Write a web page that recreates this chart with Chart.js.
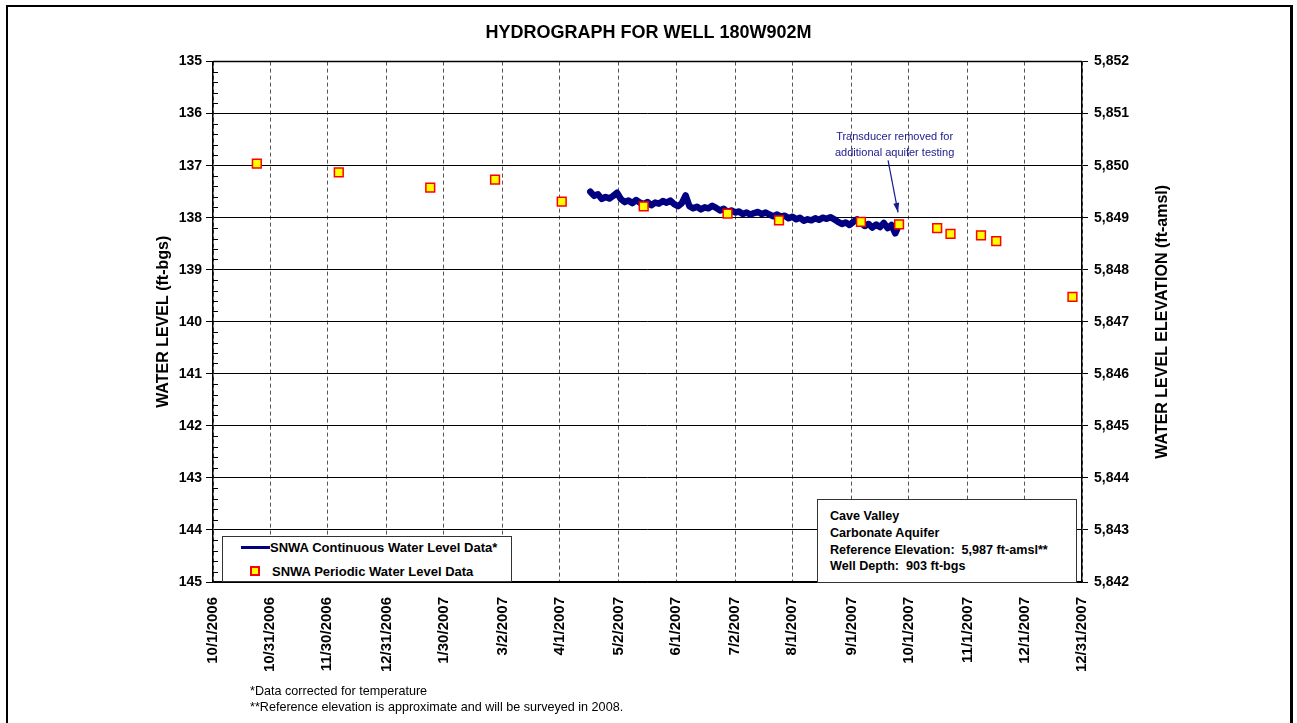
<!DOCTYPE html>
<html>
<head>
<meta charset="utf-8">
<script src="https://cdn.jsdelivr.net/npm/chart.js@4/dist/chart.umd.min.js"></script>
<style>
  html, body { margin: 0; padding: 0; background: #fff; overflow: hidden; }
  body { width: 1297px; height: 723px; position: relative; font-family: "Liberation Sans", Arial, sans-serif; }
  #wrap { position: absolute; left: 0; top: 0; width: 1297px; height: 723px; }
  #chart { display: block; }
  .frame { position: absolute; left: 6px; top: 5px; width: 1282px; height: 730px;
           border-left: 2px solid #000; border-top: 2px solid #000; border-right: 3px solid #000; }
  .box { position: absolute; background: #fff; border: 1px solid #333; font-weight: bold; color: #000; }
  #legend { left: 222px; top: 536px; width: 288px; height: 44px; font-size: 13px; }
  #legend .row { position: absolute; left: 0; white-space: nowrap; line-height: 16px; }
  #legend .swatch-line { position: absolute; width: 29px; height: 3px; background: #000080; }
  #legend .swatch-pt { position: absolute; box-sizing: border-box; width: 10px; height: 10px; background: #ffff00; border: 2px solid #ff0000; }
  #info { left: 817px; top: 499px; width: 258px; height: 82px; font-size: 12.6px; }
  #info div { position: absolute; left: 12px; white-space: nowrap; line-height: 16px; }
  .note { position: absolute; font-size: 12.6px; color: #000; white-space: nowrap; line-height: 15px; }
  .callout { position: absolute; font-size: 11px; color: #1a1a8c; text-align: center; line-height: 16px; white-space: nowrap; }
</style>
</head>
<body>
<div id="wrap"><canvas id="chart" width="1297" height="723"></canvas></div>
<div class="frame"></div>

<div id="legend" class="box">
  <span class="swatch-line" style="left:18px; top:9px;"></span>
  <div class="row" style="left:47px; top:3px;">SNWA Continuous Water Level Data*</div>
  <span class="swatch-pt" style="left:27px; top:29px;"></span>
  <div class="row" style="left:49px; top:27px;">SNWA Periodic Water Level Data</div>
</div>

<div id="info" class="box">
  <div style="top:8px;">Cave Valley</div>
  <div style="top:25px;">Carbonate Aquifer</div>
  <div style="top:42px;">Reference Elevation:&nbsp; 5,987 ft-amsl**</div>
  <div style="top:58px;">Well Depth:&nbsp; 903 ft-bgs</div>
</div>

<div class="callout" style="left:835px; top:128px;">Transducer removed for<br>additional aquifer testing</div>

<div class="note" style="left:250px; top:684px;">*Data corrected for temperature</div>
<div class="note" style="left:250px; top:700px;">**Reference elevation is approximate and will be surveyed in 2008.</div>

<script>
// x values are days after 10/1/2006
const tickDays = [0, 30, 60, 91, 121, 152, 182, 213, 243, 274, 304, 335, 365, 396, 426, 456];
const tickLabels = ['10/1/2006', '10/31/2006', '11/30/2006', '12/31/2006', '1/30/2007', '3/2/2007',
    '4/1/2007', '5/2/2007', '6/1/2007', '7/2/2007', '8/1/2007', '9/1/2007', '10/1/2007',
    '11/1/2007', '12/1/2007', '12/31/2007'];

// periodic (manual) measurements, ft below ground surface
const periodicDays = [23, 66, 114, 148, 183, 226, 270, 297, 340, 360, 380, 387, 403, 411, 451];
const periodicLevels = [136.96, 137.13, 137.42, 137.27, 137.69, 137.78, 137.92, 138.05, 138.08,
    138.13, 138.20, 138.31, 138.34, 138.45, 139.52];

// continuous transducer record
const contDays = [198, 200, 202, 204, 206, 208, 210, 212, 214, 216, 218, 220, 222, 224, 226, 228,
    230, 232, 234, 236, 238, 240, 242, 244, 246, 248, 250, 252, 254, 256, 258, 260, 262, 264, 266,
    268, 270, 272, 274, 276, 278, 280, 282, 284, 286, 288, 290, 292, 294, 296, 298, 300, 302, 304,
    306, 308, 310, 312, 314, 316, 318, 320, 322, 324, 326, 328, 330, 332, 334, 336, 338, 340, 342,
    344, 346, 348, 350, 352, 354, 356, 358, 359];
const contLevels = [137.50, 137.58, 137.55, 137.64, 137.60, 137.63, 137.58, 137.52, 137.64, 137.70,
    137.67, 137.72, 137.66, 137.71, 137.74, 137.70, 137.76, 137.71, 137.73, 137.68, 137.71, 137.67,
    137.74, 137.78, 137.72, 137.57, 137.78, 137.82, 137.79, 137.84, 137.80, 137.82, 137.77, 137.81,
    137.86, 137.83, 137.89, 137.86, 137.90, 137.88, 137.93, 137.90, 137.94, 137.91, 137.89, 137.93,
    137.90, 137.94, 137.97, 137.94, 137.98, 137.96, 138.01, 137.98, 138.03, 138.00, 138.06, 138.03,
    138.05, 138.01, 138.04, 138.00, 138.02, 137.99, 138.03, 138.08, 138.12, 138.09, 138.14, 138.08,
    138.03, 138.10, 138.16, 138.12, 138.19, 138.13, 138.18, 138.10, 138.20, 138.14, 138.30, 138.22];

const LAND_SURFACE = 5987; // ft-amsl, elevation = LAND_SURFACE - depth

Chart.defaults.font.family = '"Liberation Sans", Arial, sans-serif';
Chart.defaults.color = '#000';

// short minor ticks on the inside of the left axis, plot top line, arrow and right-hand title
const extras = {
    id: 'extras',
    afterDraw(chart) {
        const ctx = chart.ctx;
        const area = chart.chartArea;
        const y = chart.scales.y;

        ctx.save();
        ctx.strokeStyle = '#000';
        ctx.lineWidth = 1;
        for (let v = y.min; v < y.max; v += 0.2) {
            const r = Math.round(v * 10) / 10;
            if (Number.isInteger(r)) continue;
            const py = Math.round(y.getPixelForValue(r)) + 0.5;
            ctx.beginPath();
            ctx.moveTo(area.left, py);
            ctx.lineTo(area.left + 5, py);
            ctx.stroke();
        }

        ctx.lineWidth = 1.5;
        ctx.beginPath();
        ctx.moveTo(area.left, area.top);
        ctx.lineTo(area.right, area.top);
        ctx.stroke();

        // arrow to the last transducer reading
        const x = chart.scales.x;
        const tipX = x.getPixelForValue(360) - 1;
        const tipY = y.getPixelForValue(138.13) - 12;
        const fromX = tipX - 10, fromY = tipY - 52;
        ctx.strokeStyle = '#1a1a8c';
        ctx.fillStyle = '#1a1a8c';
        ctx.lineWidth = 1.2;
        ctx.beginPath();
        ctx.moveTo(fromX, fromY);
        ctx.lineTo(tipX, tipY);
        ctx.stroke();
        const ang = Math.atan2(tipY - fromY, tipX - fromX);
        ctx.beginPath();
        ctx.moveTo(tipX, tipY);
        ctx.lineTo(tipX - 10 * Math.cos(ang - 0.3), tipY - 10 * Math.sin(ang - 0.3));
        ctx.lineTo(tipX - 10 * Math.cos(ang + 0.3), tipY - 10 * Math.sin(ang + 0.3));
        ctx.closePath();
        ctx.fill();

        // right axis title reads bottom to top like the left one
        ctx.fillStyle = '#000';
        ctx.font = 'bold 16px "Liberation Sans", Arial, sans-serif';
        ctx.textAlign = 'center';
        ctx.textBaseline = 'middle';
        ctx.translate(1163, (area.top + area.bottom) / 2);
        ctx.rotate(-Math.PI / 2);
        ctx.fillText('WATER LEVEL ELEVATION (ft-amsl)', 0, 0);
        ctx.restore();
    }
};

const ctx = document.getElementById('chart').getContext('2d');
new Chart(ctx, {
    type: 'scatter',
    data: {
        datasets: [{
            label: 'SNWA Periodic Water Level Data',
            data: periodicDays.map((d, i) => ({ x: d, y: periodicLevels[i] })),
            pointStyle: 'rect',
            pointRadius: 6.2,
            pointBackgroundColor: '#ffff00',
            pointBorderColor: '#ff0000',
            pointBorderWidth: 1.5,
            order: 0
        }, {
            label: 'SNWA Continuous Water Level Data*',
            data: contDays.map((d, i) => ({ x: d, y: contLevels[i] })),
            showLine: true,
            borderColor: '#000080',
            borderWidth: 6.5,
            borderJoinStyle: 'round',
            borderCapStyle: 'round',
            pointRadius: 0,
            tension: 0,
            order: 1
        }]
    },
    options: {
        responsive: false,
        animation: false,
        events: [],
        layout: { padding: { top: 8, left: 0, right: 0, bottom: 0 } },
        plugins: {
            legend: { display: false },
            tooltip: { enabled: false },
            title: {
                display: true,
                text: 'HYDROGRAPH FOR WELL 180W902M',
                font: { size: 18, weight: 'bold' },
                color: '#000',
                padding: { top: 14, bottom: 18 }
            }
        },
        scales: {
            x: {
                type: 'linear',
                position: 'bottom',
                min: 0,
                max: 456,
                afterBuildTicks: s => { s.ticks = tickDays.map(v => ({ value: v })); },
                afterFit: s => { s.height = 141; },
                ticks: {
                    autoSkip: false,
                    maxRotation: 90,
                    minRotation: 90,
                    padding: 15,
                    font: { size: 15, weight: 'bold' },
                    callback: (v, i) => tickLabels[i]
                },
                grid: { color: '#555', lineWidth: 1, drawTicks: false },
                border: { color: '#000', width: 1.5, dash: [4, 3] }
            },
            y: {
                type: 'linear',
                position: 'left',
                reverse: true,
                min: 135,
                max: 145,
                afterFit: s => { s.width = 213; },
                ticks: { stepSize: 1, padding: 4, font: { size: 14, weight: 'bold' } },
                grid: { color: '#000', lineWidth: 1, tickLength: 7, tickColor: '#000' },
                border: { color: '#000', width: 1.5 },
                title: {
                    display: true,
                    text: 'WATER LEVEL (ft-bgs)',
                    font: { size: 16, weight: 'bold' },
                    color: '#000',
                    padding: { top: 154 }
                }
            },
            y2: {
                type: 'linear',
                position: 'right',
                min: LAND_SURFACE - 145,
                max: LAND_SURFACE - 135,
                afterFit: s => { s.width = 215; },
                ticks: {
                    stepSize: 1,
                    padding: 6,
                    font: { size: 14, weight: 'bold' },
                    callback: v => v.toLocaleString('en-US')
                },
                grid: { drawOnChartArea: false, tickLength: 6, tickColor: '#000' },
                border: { color: '#000', width: 1.5 }
            }
        }
    },
    plugins: [extras]
});
</script>
</body>
</html>
